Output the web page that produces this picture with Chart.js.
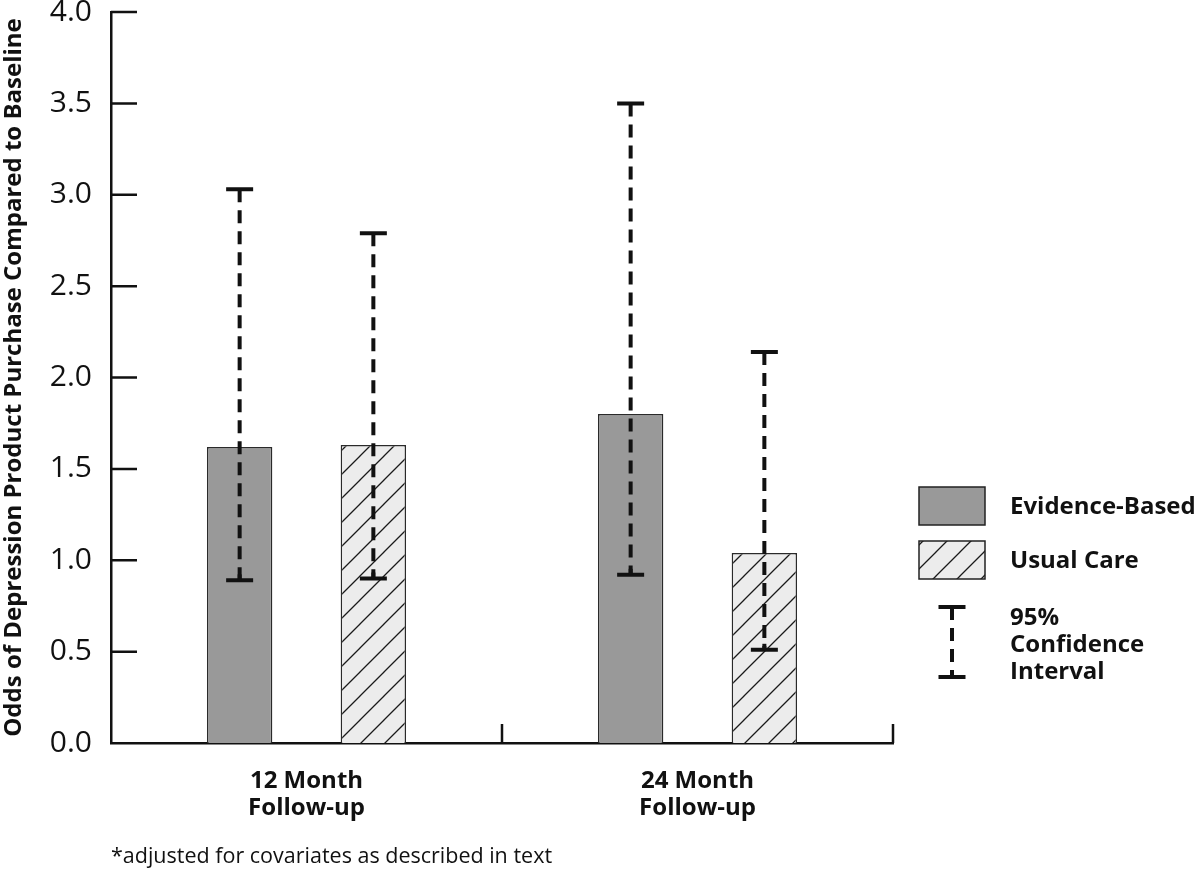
<!DOCTYPE html>
<html>
<head>
<meta charset="utf-8">
<script src="https://cdn.jsdelivr.net/npm/chart.js@4.4.1/dist/chart.umd.min.js"></script>
<style>
  html, body { margin: 0; padding: 0; background: #fff; }
</style>
</head>
<body>
<canvas id="oddsChart" width="1200" height="871"></canvas>
<script>
// values
const categories = [['12 Month', 'Follow-up'], ['24 Month', 'Follow-up']];
const evidenceBased = [1.62, 1.80];
const usualCare = [1.63, 1.04];
const evidenceLow = [0.89, 0.92];
const evidenceHigh = [3.03, 3.50];
const usualLow = [0.90, 0.51];
const usualHigh = [2.79, 2.14];
const yTicks = [0, 0.5, 1.0, 1.5, 2.0, 2.5, 3.0, 3.5, 4.0];

const FONT = '"Open Sans", "DejaVu Sans", sans-serif';
const INK = '#111';

// hatched fill for usual care
function hatch() {
  const c = document.createElement('canvas');
  c.width = 24; c.height = 24;
  const g = c.getContext('2d');
  g.fillStyle = '#ececec';
  g.fillRect(0, 0, 24, 24);
  g.strokeStyle = '#1a1a1a';
  g.lineWidth = 1.3;
  g.beginPath();
  g.moveTo(-2, 26); g.lineTo(26, -2);
  g.moveTo(-14, 14); g.lineTo(14, -14);
  g.moveTo(10, 38); g.lineTo(38, 10);
  g.stroke();
  return g.createPattern(c, 'repeat');
}
const hatchFill = hatch();

function drawCI(ctx, x, yTop, yBot, capW) {
  ctx.save();
  ctx.strokeStyle = INK;
  ctx.lineWidth = 4;
  ctx.setLineDash([13, 8]);
  ctx.beginPath();
  ctx.moveTo(x, yTop);
  ctx.lineTo(x, yBot);
  ctx.stroke();
  ctx.setLineDash([]);
  ctx.beginPath();
  ctx.moveTo(x - capW / 2, yTop); ctx.lineTo(x + capW / 2, yTop);
  ctx.moveTo(x - capW / 2, yBot); ctx.lineTo(x + capW / 2, yBot);
  ctx.stroke();
  // short stem so the caps look like the original
  ctx.beginPath();
  ctx.moveTo(x, yBot); ctx.lineTo(x, yBot - 6);
  ctx.stroke();
  ctx.restore();
}

const extras = {
  id: 'extras',
  afterDatasetsDraw(chart) {
    const ctx = chart.ctx;
    const y = chart.scales.y;
    const x = chart.scales.x;
    const area = chart.chartArea;

    // error bars
    const lows = [evidenceLow, usualLow];
    const highs = [evidenceHigh, usualHigh];
    chart.data.datasets.forEach((ds, i) => {
      chart.getDatasetMeta(i).data.forEach((bar, j) => {
        drawCI(ctx, bar.x, y.getPixelForValue(highs[i][j]), y.getPixelForValue(lows[i][j]), 27);
      });
    });

    ctx.save();
    ctx.strokeStyle = INK;
    ctx.lineWidth = 2.5;
    // inward ticks on y
    ctx.beginPath();
    yTicks.forEach(v => {
      if (v === 0) return;
      const py = y.getPixelForValue(v);
      ctx.moveTo(area.left, py);
      ctx.lineTo(area.left + 26, py);
    });
    // inward ticks at category boundaries on x
    const step = x.getPixelForValue(1) - x.getPixelForValue(0);
    categories.forEach((c, j) => {
      const px = x.getPixelForValue(j) + step / 2;
      ctx.moveTo(px, area.bottom);
      ctx.lineTo(px, area.bottom - 19);
    });
    ctx.stroke();

    // footnote
    ctx.fillStyle = INK;
    ctx.font = '21.5px ' + FONT;
    ctx.textAlign = 'left';
    ctx.textBaseline = 'middle';
    ctx.fillText('*adjusted for covariates as described in text', 111, 857);

    // legend
    const lx = 919, tx = 1010;
    ctx.lineWidth = 1.5;
    ctx.strokeStyle = '#222';
    ctx.fillStyle = chart.data.datasets[0].backgroundColor;
    ctx.fillRect(lx, 487, 66, 38);
    ctx.strokeRect(lx, 487, 66, 38);
    ctx.fillStyle = chart.data.datasets[1].backgroundColor;
    ctx.fillRect(lx, 541, 66, 38);
    ctx.strokeRect(lx, 541, 66, 38);
    drawCI(ctx, 952, 607, 677, 27);

    ctx.fillStyle = INK;
    ctx.font = 'bold 24px ' + FONT;
    ctx.fillText(chart.data.datasets[0].label, tx, 507);
    ctx.fillText(chart.data.datasets[1].label, tx, 561);
    ctx.fillText('95%', tx, 618);
    ctx.fillText('Confidence', tx, 645);
    ctx.fillText('Interval', tx, 672);
    ctx.restore();
  }
};

new Chart(document.getElementById('oddsChart').getContext('2d'), {
  type: 'bar',
  data: {
    labels: categories,
    datasets: [
      {
        label: 'Evidence-Based',
        data: evidenceBased,
        backgroundColor: '#999999',
        borderColor: '#2a2a2a',
        borderWidth: 1.5,
        categoryPercentage: 0.684,
        barPercentage: 0.489
      },
      {
        label: 'Usual Care',
        data: usualCare,
        backgroundColor: hatchFill,
        borderColor: '#2a2a2a',
        borderWidth: 1.5,
        categoryPercentage: 0.684,
        barPercentage: 0.489
      }
    ]
  },
  options: {
    responsive: false,
    animation: false,
    layout: { padding: { top: 12, right: 307, left: 0, bottom: 0 } },
    plugins: { legend: { display: false }, tooltip: { enabled: false } },
    scales: {
      x: {
        grid: { display: false, drawTicks: false },
        border: { display: true, color: INK, width: 2.5 },
        ticks: { color: INK, font: { family: FONT, weight: 'bold', size: 24, lineHeight: 1.15 }, padding: 24, maxRotation: 0 },
        afterFit(s) { s.height = 128; s.paddingLeft = 0; s.paddingRight = 0; }
      },
      y: {
        min: 0,
        max: 4,
        grid: { display: false, drawTicks: false },
        border: { display: true, color: INK, width: 2.5 },
        afterBuildTicks(s) { s.ticks = yTicks.map(v => ({ value: v })); },
        ticks: {
          color: INK,
          font: { family: FONT, size: 30 },
          padding: 19,
          callback: v => v.toFixed(1)
        },
        title: {
          display: true,
          text: 'Odds of Depression Product Purchase Compared to Baseline',
          color: INK,
          font: { family: FONT, weight: 'bold', size: 24 },
          padding: { top: 0, bottom: 0 }
        },
        afterFit(s) { s.width = 111; s.paddingTop = 0; s.paddingBottom = 0; }
      }
    }
  },
  plugins: [extras]
});
</script>
</body>
</html>
